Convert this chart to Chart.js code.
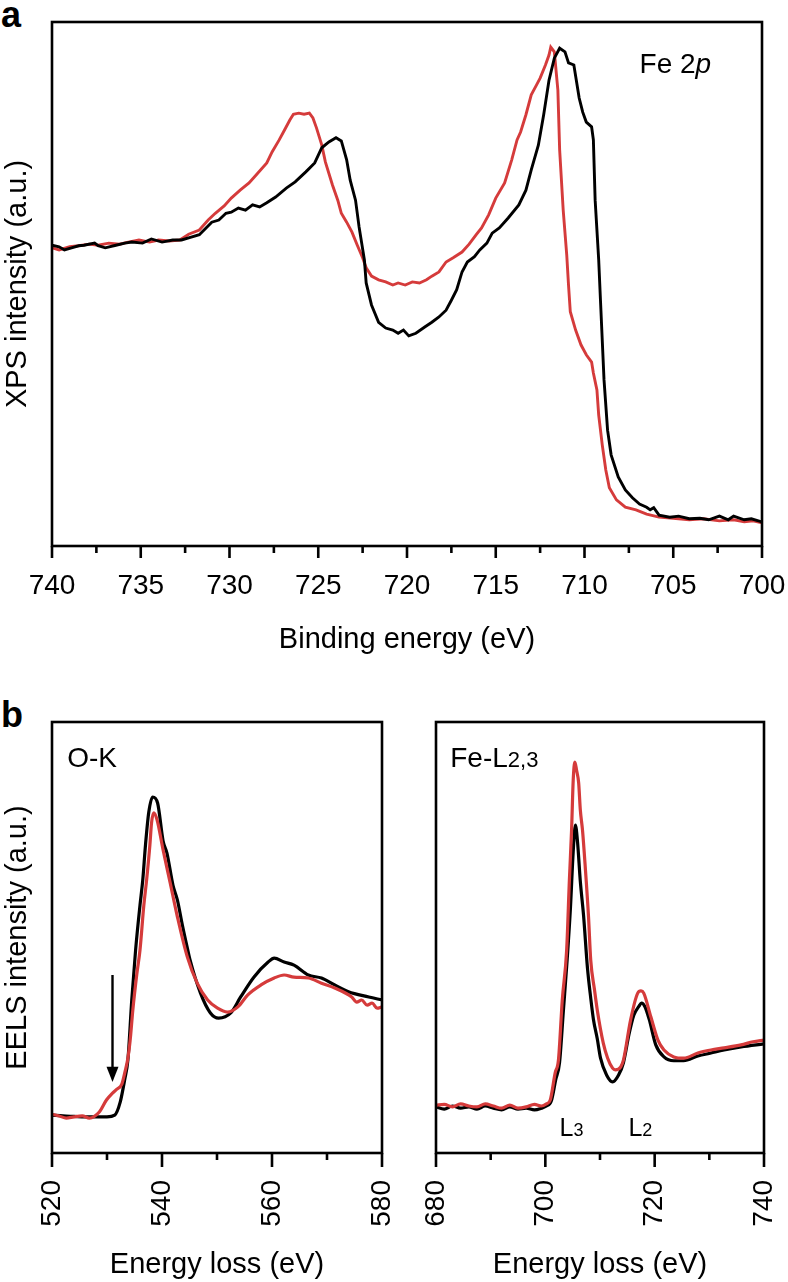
<!DOCTYPE html>
<html><head><meta charset="utf-8">
<script src="https://cdn.jsdelivr.net/npm/chart.js@4.4.1/dist/chart.umd.min.js"></script>
<style>
html,body{margin:0;padding:0;background:#fff;}
body{width:788px;height:1282px;position:relative;overflow:hidden;font-family:'Liberation Sans',Arial,Helvetica,sans-serif;}
canvas{position:absolute;}
.lbl{position:absolute;font-weight:bold;font-size:36px;line-height:36px;color:#000;}
</style></head><body>
<div class="lbl" style="left:1px;top:-3px">a</div>
<div class="lbl" style="left:1px;top:697px">b</div>
<canvas id="c1" width="788" height="660" style="left:0;top:0"></canvas>
<canvas id="c2" width="400" height="622" style="left:0;top:660px"></canvas>
<canvas id="c3" width="388" height="622" style="left:400px;top:660px"></canvas>
<script>
// ---------- XPS Fe 2p (panel a) ----------
const xpsTicks = [740, 735, 730, 725, 720, 715, 710, 705, 700];
const xpsMinorTicks = [737.5, 732.5, 727.5, 722.5, 717.5, 712.5, 707.5, 702.5];
const xpsEnergyBlack = [740.0,739.6,739.3,738.9,738.5,738.2,737.6,737.4,737.0,736.4,735.9,735.5,734.9,734.4,733.8,733.2,732.7,732.3,731.7,731.0,730.6,730.2,729.9,729.5,729.1,728.7,728.3,727.9,727.4,726.8,726.3,725.7,725.2,724.8,724.4,724.0,723.7,723.4,723.2,722.9,722.7,722.4,722.3,722.0,721.6,721.2,720.8,720.5,720.2,719.9,719.5,719.0,718.6,718.2,717.8,717.5,717.2,716.9,716.6,716.2,715.9,715.5,715.2,714.8,714.3,713.7,713.3,713.0,712.6,712.3,712.0,711.7,711.4,711.1,710.9,710.6,710.3,710.1,709.9,709.6,709.5,709.4,709.2,709.1,708.9,708.7,708.5,708.1,707.7,707.3,706.9,706.5,706.3,706.1,705.8,705.2,704.7,704.1,703.5,703.0,702.4,701.9,701.6,701.0,700.6,700.0];
const xpsBlack = [57.4,57.1,56.5,56.9,57.3,57.4,57.8,57.3,56.9,57.4,57.8,58.0,57.8,58.6,58.0,58.4,58.4,58.8,59.4,61.8,62.2,63.5,63.7,64.5,64.1,65.1,64.7,65.5,66.6,68.3,69.5,71.4,73.1,76.0,77.1,77.9,77.3,73.7,69.8,66.0,60.9,54.6,50.2,46.0,42.7,41.6,41.2,40.6,41.2,40.1,40.6,41.8,42.7,43.7,45.0,46.9,48.9,52.3,54.2,55.2,56.5,57.8,59.7,60.7,62.6,65.1,67.9,71.8,76.5,82.3,88.9,93.1,95.0,94.3,92.2,91.8,85.5,82.8,80.9,80.0,77.5,66.0,54.6,46.9,31.7,22.1,17.4,13.2,10.7,9.2,8.0,7.4,6.9,7.3,5.9,5.5,5.7,5.2,5.3,5.0,5.7,5.0,5.7,5.0,5.2,4.6];
const xpsEnergyRed = [740.0,739.6,739.0,738.5,737.9,737.4,736.8,736.2,735.7,735.1,734.5,734.0,733.4,732.8,732.3,731.7,731.2,730.8,730.3,729.9,729.4,728.9,728.5,727.9,727.6,727.2,726.9,726.6,726.4,726.1,725.8,725.5,725.3,725.1,724.8,724.6,724.2,723.9,723.7,723.4,723.1,722.8,722.5,722.3,722.0,721.6,721.2,720.8,720.5,720.1,719.7,719.3,718.9,718.6,718.2,717.8,717.4,716.9,716.5,716.1,715.8,715.4,715.0,714.5,714.1,713.8,713.6,713.3,713.0,712.7,712.5,712.2,712.0,711.9,711.7,711.5,711.4,711.2,711.0,710.9,710.8,710.5,710.2,709.9,709.6,709.5,709.3,709.2,709.0,708.8,708.6,708.2,707.7,707.1,706.5,705.8,705.0,704.1,703.3,702.4,701.6,701.0,700.5,700.0];
const xpsRed = [56.9,56.5,57.1,57.3,57.6,57.4,57.8,57.6,58.0,58.4,58.0,58.4,58.2,58.4,59.5,60.3,62.2,63.5,64.9,66.4,67.9,69.3,70.8,73.1,75.2,77.5,79.4,81.3,82.4,82.6,82.4,82.6,81.7,79.8,76.5,73.3,68.9,66.0,63.5,61.8,59.9,57.4,55.0,53.1,51.5,50.8,50.4,49.8,50.2,49.8,50.4,50.2,50.8,51.5,52.3,54.2,55.0,56.1,57.6,59.4,60.7,63.2,66.4,69.3,73.7,77.5,79.0,82.3,86.1,88.0,89.3,91.8,93.7,95.2,94.3,87.0,75.6,64.1,55.5,49.8,44.7,41.2,38.4,36.5,35.1,33.0,29.8,25.0,19.3,14.5,11.1,8.8,7.4,6.9,6.1,5.5,5.3,5.0,5.2,4.8,5.0,4.6,4.8,4.4];

// ---------- EELS O-K (panel b, left) ----------
const oTicks = [520, 540, 560, 580];
const oMinorTicks = [530, 550, 570];
const oEnergyBlack = [520.0,522.0,524.0,526.0,528.0,530.0,531.4,532.4,533.2,533.8,534.5,535.2,536.0,536.5,537.0,537.6,538.3,539.2,540.2,540.9,542.0,542.8,543.7,544.6,545.1,547.0,548.8,550.3,552.5,554.3,556.7,559.3,560.4,562.2,564.0,566.6,569.0,571.4,573.9,577.6,580.0];
const oBlack = [8.8,8.6,8.5,8.4,8.4,8.4,8.8,11.8,16.9,21.6,35.5,47.1,57.5,63.3,71.5,79.1,82.6,81.2,72.4,69.6,62.1,58.7,52.9,47.6,44.8,37.1,32.5,31.3,32.5,36.2,40.8,44.3,45.2,44.3,43.6,41.3,40.6,39.0,37.4,36.2,35.5];
const oEnergyRed = [520.0,521.3,522.6,524.0,525.5,526.8,528.6,529.9,531.0,531.8,532.7,533.3,533.8,534.2,534.7,535.4,536.0,536.7,537.2,537.8,538.1,538.5,539.1,540.2,541.5,542.8,544.6,546.4,548.3,550.1,551.9,553.8,555.6,558.0,560.4,562.2,564.0,566.6,569.0,571.4,574.5,575.4,576.3,577.3,578.2,579.1,580.0];
const oRed = [9.0,8.6,8.1,8.4,8.6,8.1,9.5,12.3,13.9,14.8,16.0,19.0,22.0,26.0,33.2,41.3,47.1,57.5,63.3,71.5,76.6,78.9,77.3,70.3,62.6,54.8,45.5,39.4,35.5,33.6,32.7,33.9,36.7,39.0,40.6,41.3,40.8,40.6,39.4,38.3,36.2,35.0,35.5,34.3,34.8,33.6,33.9];

// ---------- EELS Fe-L2,3 (panel b, right) ----------
const feTicks = [680, 700, 720, 740];
const feMinorTicks = [690, 710, 730];
const feEnergyRed = [680.0,681.5,683.0,684.5,686.0,687.5,689.0,690.5,692.0,693.5,695.0,696.5,698.0,699.3,700.2,700.9,701.8,702.4,703.1,703.9,704.4,704.8,705.1,705.4,705.7,706.1,706.4,706.8,707.3,707.9,708.3,709.0,709.5,710.6,711.4,712.3,712.8,713.8,714.3,715.6,716.9,717.5,718.0,719.3,720.6,721.7,723.5,725.3,727.9,730.3,732.7,735.8,738.0,740.0];
const feRed = [11.1,11.3,10.7,11.4,10.9,10.7,11.4,10.9,10.4,11.1,10.4,10.7,11.3,10.9,11.4,12.3,18.6,21.6,35.5,47.1,63.3,74.9,86.5,90.7,88.9,85.8,79.6,74.9,66.4,54.8,44.8,37.8,33.2,25.5,22.0,19.7,19.3,20.0,21.6,30.9,37.1,37.6,37.1,31.6,26.2,23.9,22.3,22.0,23.2,23.9,24.4,25.1,25.8,26.2];
const feEnergyBlack = [680.0,681.5,683.0,684.5,686.0,687.5,689.0,690.5,692.0,693.5,695.0,696.5,698.0,699.3,700.2,701.1,701.9,702.6,703.3,704.0,704.6,705.1,705.5,705.9,706.4,707.0,707.7,708.3,708.8,709.5,710.1,711.2,712.3,713.4,714.3,715.3,716.2,717.1,717.6,718.2,719.0,720.2,721.7,723.5,725.3,727.9,730.3,732.7,735.8,740.0];
const feBlack = [10.7,10.2,10.9,10.4,10.7,10.2,10.9,10.4,10.0,10.7,10.2,10.4,10.0,10.4,10.9,12.1,17.0,21.0,33.0,45.0,57.0,70.0,76.1,72.0,63.0,55.0,43.0,36.0,31.0,26.5,22.0,18.1,16.5,18.1,21.0,27.5,32.0,34.0,34.8,34.0,31.0,25.1,22.3,21.4,21.4,22.5,23.2,23.9,24.6,25.3];

const FONT = "'Liberation Sans', Arial, Helvetica, sans-serif";
const RED = '#d53b3b';
const BLACK = '#000000';

function toPoints(xs, ys) { return xs.map((x, i) => ({x: x, y: ys[i]})); }

function framePlugin(majors, minors, majorLen, minorLen) {
  return {
    id: 'frameTicks',
    afterDraw(chart) {
      const ctx = chart.ctx, a = chart.chartArea, xs = chart.scales.x;
      ctx.save();
      ctx.strokeStyle = '#000';
      ctx.lineWidth = 2.6;
      ctx.lineCap = 'butt';
      ctx.strokeRect(a.left, a.top, a.right - a.left, a.bottom - a.top);
      const tick = (v, len) => {
        const px = xs.getPixelForValue(v);
        ctx.beginPath(); ctx.moveTo(px, a.bottom); ctx.lineTo(px, a.bottom + len); ctx.stroke();
      };
      majors.forEach(v => tick(v, majorLen));
      minors.forEach(v => tick(v, minorLen));
      ctx.restore();
    }
  };
}

function textPlugin(items) {
  return {
    id: 'texts',
    afterDraw(chart) {
      const ctx = chart.ctx, xs = chart.scales.x, ys = chart.scales.y;
      ctx.save();
      ctx.fillStyle = '#000';
      ctx.textBaseline = 'alphabetic';
      ctx.textAlign = 'left';
      items.forEach(it => {
        let px = xs.getPixelForValue(it.x);
        const py = ys.getPixelForValue(it.y);
        it.parts.forEach(p => {
          ctx.font = (p.style || '') + ' ' + p.size + 'px ' + FONT;
          ctx.fillText(p.t, px, py);
          px += ctx.measureText(p.t).width;
        });
      });
      ctx.restore();
    }
  };
}

function arrowPlugin(xv, yTop, yHead, yTip) {
  return {
    id: 'arrow',
    afterDraw(chart) {
      const ctx = chart.ctx, xs = chart.scales.x, ys = chart.scales.y;
      const px = xs.getPixelForValue(xv);
      const t = ys.getPixelForValue(yTop), h = ys.getPixelForValue(yHead), tip = ys.getPixelForValue(yTip);
      ctx.save();
      ctx.strokeStyle = '#000'; ctx.fillStyle = '#000'; ctx.lineWidth = 2.4;
      ctx.beginPath(); ctx.moveTo(px, t); ctx.lineTo(px, h + 2); ctx.stroke();
      ctx.beginPath(); ctx.moveTo(px - 6, h); ctx.lineTo(px + 6, h); ctx.lineTo(px, tip); ctx.closePath(); ctx.fill();
      ctx.restore();
    }
  };
}

function xScale(min, max, reverse, ticks, rotation, pad, height, title, titlePadBottom) {
  return {
    type: 'linear', min: min, max: max, reverse: reverse,
    afterBuildTicks: s => { s.ticks = ticks.map(v => ({value: v})); },
    ticks: {color: '#000', font: {family: FONT, size: 28}, padding: pad, autoSkip: false,
            maxRotation: rotation, minRotation: rotation},
    grid: {display: false, drawTicks: false},
    border: {display: false},
    title: {display: true, text: title, color: '#000', font: {family: FONT, size: 29},
            padding: {top: 0, bottom: titlePadBottom}},
    afterFit: s => { s.height = height; s.paddingLeft = 0; s.paddingRight = 0; }
  };
}

function yScale(width, title) {
  return {
    min: 0, max: 100,
    ticks: {display: false},
    grid: {display: false, drawTicks: false},
    border: {display: false},
    title: {display: !!title, text: title || '', color: '#000', font: {family: FONT, size: 29},
            padding: {top: 1, bottom: 0}},
    afterFit: s => { s.width = width; s.paddingTop = 0; s.paddingBottom = 0; }
  };
}

const common = {
  responsive: false, animation: false, devicePixelRatio: 1,
  plugins: {legend: {display: false}, tooltip: {enabled: false}},
  elements: {point: {radius: 0}}
};

// Panel a
new Chart(document.getElementById('c1'), {
  type: 'line',
  data: {datasets: [
    {data: toPoints(xpsEnergyBlack, xpsBlack), borderColor: BLACK, borderWidth: 2.9, pointRadius: 0, tension: 0},
    {data: toPoints(xpsEnergyRed, xpsRed), borderColor: RED, borderWidth: 2.9, pointRadius: 0, tension: 0}
  ]},
  options: Object.assign({}, common, {
    layout: {padding: {top: 22, right: 26, left: 0, bottom: 0}},
    scales: {
      x: xScale(700, 740, true, xpsTicks, 0, 23, 114, 'Binding energy (eV)', 3),
      y: yScale(52, 'XPS intensity (a.u.)')
    }
  }),
  plugins: [framePlugin(xpsTicks, xpsMinorTicks, 12, 7),
            textPlugin([{x: 706.9, y: 90.3, parts: [{t: 'Fe 2', size: 28}, {t: 'p', size: 28, style: 'italic'}]}])]
});

// Panel b left (O-K)
new Chart(document.getElementById('c2'), {
  type: 'line',
  data: {datasets: [
    {data: toPoints(oEnergyRed, oRed), borderColor: RED, borderWidth: 3.2, pointRadius: 0, cubicInterpolationMode: 'monotone'},
    {data: toPoints(oEnergyBlack, oBlack), borderColor: BLACK, borderWidth: 3.2, pointRadius: 0, cubicInterpolationMode: 'monotone'}
  ]},
  options: Object.assign({}, common, {
    layout: {padding: {top: 62, right: 18, left: 0, bottom: 0}},
    scales: {
      x: xScale(520, 580, false, oTicks, 90, 27, 129, 'Energy loss (eV)', 0),
      y: yScale(52, 'EELS intensity (a.u.)')
    }
  }),
  plugins: [framePlugin(oTicks, oMinorTicks, 14, 7),
            textPlugin([{x: 522.75, y: 89.6, parts: [{t: 'O-K', size: 28}]}]),
            arrowPlugin(531.0, 41.3, 20.0, 16.5)]
});

// Panel b right (Fe-L2,3)
new Chart(document.getElementById('c3'), {
  type: 'line',
  data: {datasets: [
    {data: toPoints(feEnergyRed, feRed), borderColor: RED, borderWidth: 3.2, pointRadius: 0, cubicInterpolationMode: 'monotone'},
    {data: toPoints(feEnergyBlack, feBlack), borderColor: BLACK, borderWidth: 3.2, pointRadius: 0, cubicInterpolationMode: 'monotone'}
  ]},
  options: Object.assign({}, common, {
    layout: {padding: {top: 62, right: 24, left: 0, bottom: 0}},
    scales: {
      x: xScale(680, 740, false, feTicks, 90, 27, 129, 'Energy loss (eV)', 0),
      y: yScale(36, '')
    }
  }),
  plugins: [framePlugin(feTicks, feMinorTicks, 14, 7),
            textPlugin([
              {x: 682.6, y: 89.6, parts: [{t: 'Fe-L', size: 28}, {t: '2,3', size: 22}]},
              {x: 702.6, y: 4.0, parts: [{t: 'L', size: 25}, {t: '3', size: 18}]},
              {x: 715.2, y: 4.0, parts: [{t: 'L', size: 25}, {t: '2', size: 18}]}
            ])]
});
</script>
</body></html>
